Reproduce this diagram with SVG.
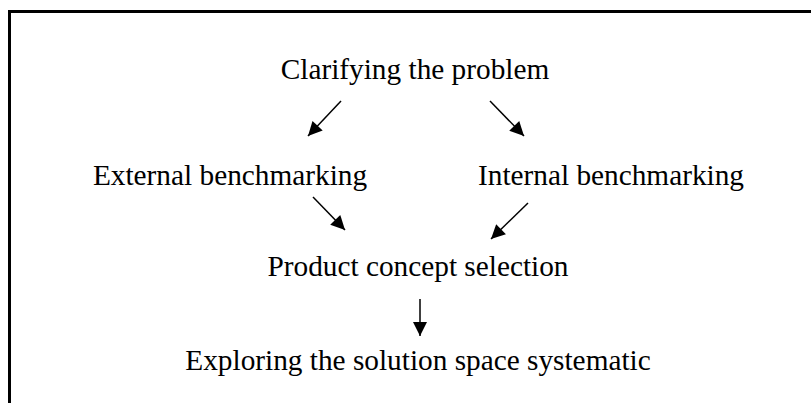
<svg xmlns="http://www.w3.org/2000/svg" width="811" height="403" viewBox="0 0 811 403">
  <style>
    .label { font-family: "Liberation Serif", "Times New Roman", serif; font-size: 29.3px; fill: #000; text-anchor: middle; }
    .link { stroke: #000; stroke-width: 1.5; fill: none; marker-end: url(#head); }
  </style>
  <defs>
    <marker id="head" viewBox="0 0 10 10" refX="10" refY="5" markerUnits="userSpaceOnUse" markerWidth="15" markerHeight="14" orient="auto">
      <path d="M0,0 L10,5 L0,10 Z" fill="#000"/>
    </marker>
  </defs>
  <rect width="811" height="403" fill="#fff"/>
  <!-- frame: open to the right and bottom -->
  <path d="M9.5,410 L9.5,11.5 L820,11.5" fill="none" stroke="#000" stroke-width="3"/>

  <g id="connectors">
    <line class="link" x1="341" y1="101" x2="308" y2="136"/>
    <line class="link" x1="490" y1="101" x2="524" y2="136"/>
    <line class="link" x1="313" y1="197" x2="345" y2="230"/>
    <line class="link" x1="528" y1="203" x2="491" y2="239"/>
    <line class="link" x1="420" y1="299" x2="420" y2="336"/>
  </g>

  <g id="clarify"><text class="label" x="415" y="79">Clarifying the problem</text></g>
  <g id="external"><text class="label" x="230" y="185">External benchmarking</text></g>
  <g id="internal"><text class="label" x="611" y="185">Internal benchmarking</text></g>
  <g id="selection"><text class="label" x="418" y="276">Product concept selection</text></g>
  <g id="explore"><text class="label" x="418" y="370">Exploring the solution space systematic</text></g>
</svg>
